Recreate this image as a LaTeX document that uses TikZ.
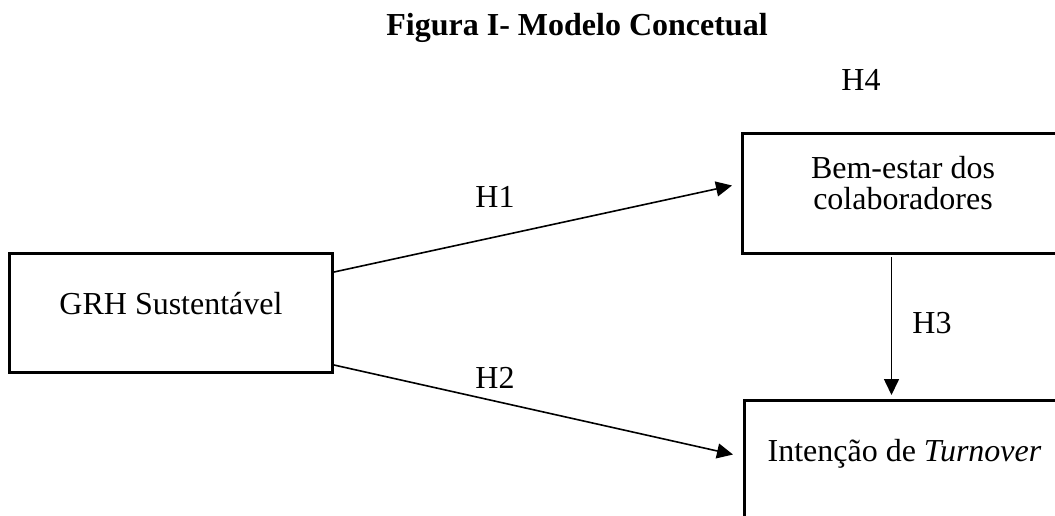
\documentclass[tikz,border=0pt]{standalone}
\usepackage{fontspec}
\setmainfont{Liberation Serif}
\usetikzlibrary{arrows.meta}

\tikzset{
    box/.style={draw, line width=3pt, inner sep=0pt, anchor=north west, align=center,
        font=\fontsize{32}{31}\selectfont},
    hyp/.style={anchor=base, font=\fontsize{32}{31}\selectfont},
    link/.style={line width=1.6pt, -{Triangle[length=16pt,width=15pt]}}
}

\begin{document}
\begin{tikzpicture}[x=1pt, y=-1pt]
    \useasboundingbox (0,0) rectangle (1055,515);

    % Title
    \node[anchor=base, font=\fontsize{32}{31}\selectfont\bfseries] (title) at (577,35) {Figura I- Modelo Concetual};

    % Constructs
    \node[box, minimum width=323pt, text height=61pt, text depth=58pt] (grh) at (8,252) {GRH Sustentável};
    \node[box, minimum width=321pt, text height=76pt, text depth=44pt] (bem) at (741,132) {Bem-estar dos\\colaboradores};
    \node[box, minimum width=320pt, text height=61pt, text depth=80pt] (turn) at (743,399) {Intenção de \textit{Turnover}};

    % Hypotheses
    \draw[link] ([yshift=-20pt]grh.north east) -- ([xshift=-9pt,yshift=8pt]bem.west);
    \draw[link] ([yshift=9pt]grh.south east) -- ([xshift=-10pt,yshift=16.5pt]turn.west);
    \draw[link, shorten <=2pt, shorten >=4pt] ([xshift=-11.5pt]bem.south) -- ([xshift=-11.5pt]bem.south |- turn.north);

    % Hypothesis labels
    \node[hyp] (h1) at (495,207) {H1};
    \node[hyp] (h2) at (495,388) {H2};
    \node[hyp] (h3) at (932,333) {H3};
    \node[hyp] (h4) at (861,90) {H4};
\end{tikzpicture}
\end{document}
